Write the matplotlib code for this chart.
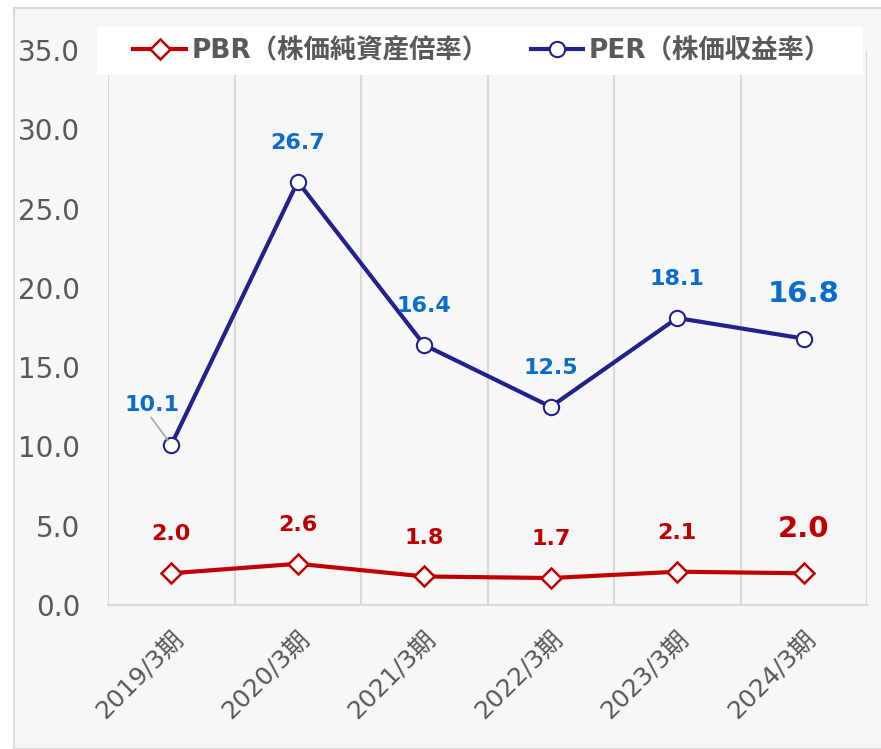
import matplotlib.pyplot as plt
from matplotlib.patches import Rectangle

periods = ['2019/3期', '2020/3期', '2021/3期', '2022/3期', '2023/3期', '2024/3期']
pbr = [2.0, 2.6, 1.8, 1.7, 2.1, 2.0]
per = [10.1, 26.7, 16.4, 12.5, 18.1, 16.8]
pbr_name = 'PBR（株価純資産倍率）'
per_name = 'PER（株価収益率）'

fonts = ['DejaVu Sans', 'Noto Sans CJK JP']
plt.rcParams['font.family'] = fonts
gray = '#595959'
red = '#c00000'
navy = '#22228c'
blue = '#0a6ccc'
grid = '#d9d9d9'
bg = '#f7f7f7'

fig = plt.figure(figsize=(8.81, 7.49), dpi=100, facecolor='white')
W, H = 881, 749

# outer chart area
fig.patches.append(Rectangle((14 / W, 0), 1, 1 - 8 / H, transform=fig.transFigure,
                             facecolor=bg, edgecolor=grid, lw=1.5, zorder=-1))

ax = fig.add_axes([108 / W, 1 - 605 / H, (867 - 108) / W, (605 - 50) / H])
ax.set_zorder(1)
ax.set_facecolor(bg)
x = list(range(len(periods)))

ax.plot(x, pbr, color=red, lw=3, marker='D', ms=10, mfc='white', mec=red, mew=1.8,
        label=pbr_name, zorder=3)
ax.plot(x, per, color=navy, lw=3, marker='o', ms=11, mfc='white', mec=navy, mew=1.5,
        label=per_name, zorder=3)

ax.set_xlim(-0.5, 5.5)
ax.set_ylim(0, 35)
ax.set_yticks([0, 5, 10, 15, 20, 25, 30, 35])
ax.set_yticklabels([f'{v:.1f}' for v in ax.get_yticks()])
ax.set_xticks(x)
ax.set_xticklabels(periods, rotation=45, ha='right', rotation_mode='anchor')
ax.set_xticks([i + 0.5 for i in range(-1, len(periods))], minor=True)
ax.grid(True, which='minor', axis='x', color=grid, lw=1.5)
ax.tick_params(axis='y', length=0, pad=20, labelsize=20, labelcolor=gray)
ax.tick_params(axis='x', which='major', length=0, pad=16, labelsize=18, labelcolor=gray)
ax.tick_params(axis='x', which='minor', length=0)
for s in ['top', 'right', 'left']:
    ax.spines[s].set_visible(False)
ax.spines['bottom'].set_color(grid)
ax.spines['bottom'].set_linewidth(1.5)

# data labels
for i, v in enumerate(per):
    big = i == len(per) - 1
    if i == 0:
        ax.annotate(f'{v:.1f}', (i, v), xytext=(-14, 29), textcoords='offset points',
                    ha='center', va='center', color=blue, fontsize=16, fontweight='bold',
                    arrowprops=dict(arrowstyle='-', color='#a6a6a6', lw=1.2,
                                    relpos=(0.45, 0), shrinkA=0, shrinkB=4))
    else:
        ax.annotate(f'{v:.1f}', (i, v), xytext=(0, 32 if big else 28),
                    textcoords='offset points', ha='center', va='center', color=blue,
                    fontsize=21 if big else 16, fontweight='bold')
for i, v in enumerate(pbr):
    big = i == len(pbr) - 1
    ax.annotate(f'{v:.1f}', (i, v), xytext=(0, 32 if big else 28),
                textcoords='offset points', ha='center', va='center', color=red,
                fontsize=21 if big else 16, fontweight='bold')

# legend box
fig.patches.append(Rectangle((97 / W, 1 - 75 / H), (863 - 97) / W, 48 / H,
                             transform=fig.transFigure, facecolor='white',
                             edgecolor='none', zorder=4))
leg = fig.legend(loc='center', bbox_to_anchor=(482 / W, 1 - 51 / H), ncol=2,
                 frameon=False, handlelength=2.0, handletextpad=0.2, columnspacing=1.6,
                 prop={'family': fonts, 'weight': 'bold', 'size': 19})
leg.set_zorder(5)
for t in leg.get_texts():
    t.set_color(gray)

fig.savefig('out.png', dpi=100, facecolor='white')
